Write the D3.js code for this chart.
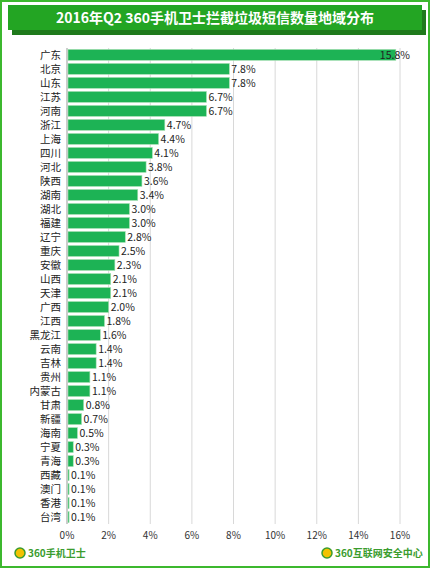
<!DOCTYPE html>
<html><head><meta charset="utf-8">
<script src="https://cdn.jsdelivr.net/npm/d3@7"></script>
<style>body{margin:0;background:#fff}</style>
</head><body><div id="chart"></div>
<script>
const regions = ['广东','北京','山东','江苏','河南','浙江','上海','四川','河北','陕西','湖南','湖北','福建','辽宁','重庆','安徽','山西','天津','广西','江西','黑龙江','云南','吉林','贵州','内蒙古','甘肃','新疆','海南','宁夏','青海','西藏','澳门','香港','台湾'];
const shares = [15.8,7.8,7.8,6.7,6.7,4.7,4.4,4.1,3.8,3.6,3.4,3.0,3.0,2.8,2.5,2.3,2.1,2.1,2.0,1.8,1.6,1.4,1.4,1.1,1.1,0.8,0.7,0.5,0.3,0.3,0.1,0.1,0.1,0.1];
const xTicks = [0,2,4,6,8,10,12,14,16];
const font = '"Microsoft YaHei","Noto Sans CJK SC",sans-serif';

const W = 430, H = 568;
const svg = d3.select('#chart').append('svg').attr('width', W).attr('height', H);

// Outer border
svg.append('rect').attr('x', 1).attr('y', 1).attr('width', W - 2).attr('height', H - 2)
    .attr('fill', '#fff').attr('stroke', '#3cb82e').attr('stroke-width', 2);

// Title banner
svg.append('rect').attr('x', 12).attr('y', 10).attr('width', 414).attr('height', 25).attr('fill', '#1f7a1c');
svg.append('rect').attr('x', 8).attr('y', 5).attr('width', 414).attr('height', 25).attr('fill', '#23a523');
svg.append('text').attr('x', 215).attr('y', 23).attr('text-anchor', 'middle')
    .attr('fill', '#fff').attr('font-family', font).attr('font-weight', 'bold').attr('font-size', 14)
    .text('2016年Q2 360手机卫士拦截垃圾短信数量地域分布');

const plotLeft = 67, plotRight = 400, plotTop = 48, plotBottom = 524;
const x = d3.scaleLinear().domain([0, 16]).range([plotLeft, plotRight]);
const y = d3.scaleBand().domain(regions).range([plotTop, plotBottom]).paddingInner(0.22).paddingOuter(0.1);

// Grid
svg.append('g').selectAll('line').data(xTicks).join('line')
    .attr('x1', d => x(d)).attr('x2', d => x(d)).attr('y1', plotTop).attr('y2', plotBottom)
    .attr('stroke', d => d === 0 ? '#999' : '#d8d8d8').attr('stroke-width', 1);

// X axis labels
svg.append('g').selectAll('text').data(xTicks).join('text')
    .attr('x', d => x(d)).attr('y', plotBottom + 15).attr('text-anchor', 'middle')
    .attr('font-family', font).attr('font-size', 10).attr('fill', '#333')
    .text(d => d + '%');

// Bars
svg.append('g').selectAll('rect').data(regions).join('rect')
    .attr('x', x(0) + 1).attr('y', d => y(d))
    .attr('width', (d, i) => x(shares[i]) - x(0) - 1).attr('height', y.bandwidth())
    .attr('fill', '#1db355').attr('stroke', '#a7e0b4').attr('stroke-width', 0.6);

// Category labels
svg.append('g').selectAll('text').data(regions).join('text')
    .attr('x', plotLeft - 6).attr('y', d => y(d) + y.bandwidth() / 2 + 4).attr('text-anchor', 'end')
    .attr('font-family', font).attr('font-size', 10.5).attr('fill', '#222')
    .text(d => d);

// Value labels
svg.append('g').selectAll('text').data(regions).join('text')
    .attr('x', (d, i) => i === 0 ? x(shares[i]) - 16 : x(shares[i]) + 2)
    .attr('y', d => y(d) + y.bandwidth() / 2 + 4)
    .attr('font-family', font).attr('font-size', 10.5).attr('fill', '#222')
    .text((d, i) => shares[i].toFixed(1) + '%');

// Footer logos
const logo = (cx, label) => {
    svg.append('circle').attr('cx', cx).attr('cy', 553).attr('r', 5).attr('fill', '#f2c200').attr('stroke', '#3a9c2e').attr('stroke-width', 1.5);
    svg.append('text').attr('x', cx + 8).attr('y', 557)
        .attr('font-family', font).attr('font-weight', 'bold').attr('font-size', 10).attr('fill', '#3a9c2e')
        .text(label);
};
logo(20, '360手机卫士');
logo(327, '360互联网安全中心');
</script>
</body></html>
